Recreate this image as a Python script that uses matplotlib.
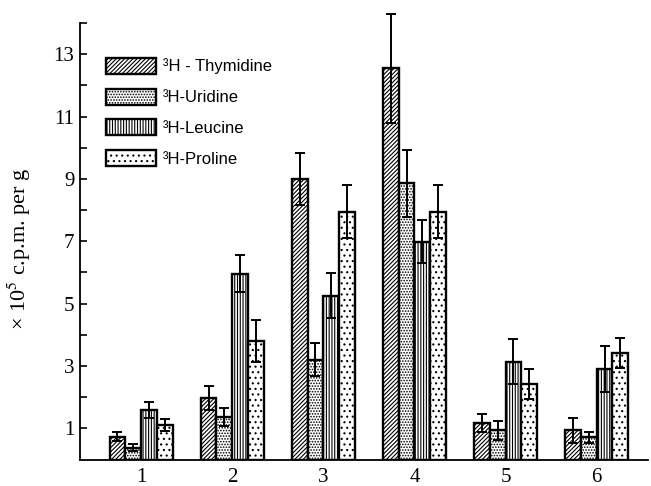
import numpy as np
import matplotlib
matplotlib.use('Agg')
import matplotlib.pyplot as plt

plt.rcParams['mathtext.fontset'] = 'stix'
plt.rcParams['hatch.linewidth'] = 0.8

groups = ['1', '2', '3', '4', '5', '6']
labels = ['³H - Thymidine', '³H-Uridine', '³H-Leucine', '³H-Proline']

thymidine = [0.73, 1.97, 9.0, 12.55, 1.16, 0.94]
thymidine_err = [0.15, 0.38, 0.83, 1.75, 0.29, 0.40]
uridine = [0.38, 1.36, 3.2, 8.86, 0.94, 0.71]
uridine_err = [0.12, 0.30, 0.53, 1.07, 0.30, 0.17]
leucine = [1.59, 5.96, 5.26, 6.99, 3.14, 2.91]
leucine_err = [0.27, 0.60, 0.72, 0.68, 0.72, 0.73]
proline = [1.10, 3.80, 7.95, 7.95, 2.42, 3.43]
proline_err = [0.20, 0.67, 0.85, 0.85, 0.49, 0.48]

series = [thymidine, uridine, leucine, proline]
errors = [thymidine_err, uridine_err, leucine_err, proline_err]
hatches = ['////////', '......', '||||||', '...']

fig = plt.figure(figsize=(6.51, 4.86), dpi=100)
ax = fig.add_axes([0.123, 0.0545, 0.872, 0.898])

x = np.arange(len(groups))
w = 0.173
for k in range(4):
    pos = x + (k - 1.5)*w
    ax.bar(pos, series[k], w, color='white', edgecolor='black', linewidth=1.7,
           hatch=hatches[k], label=labels[k], zorder=2)
    ax.errorbar(pos, series[k], yerr=errors[k], fmt='none', ecolor='black',
                elinewidth=1.4, capsize=3.5, capthick=1.4, zorder=3, clip_on=False)

ax.set_xlim(-0.67, 5.56)
ax.set_ylim(0, 14)
ax.set_xticks(x)
ax.set_xticklabels(groups, fontsize=15, family='Liberation Serif')
ax.tick_params(axis='x', length=0, pad=6)
ax.set_yticks([1, 3, 5, 7, 9, 11, 13])
ax.set_yticks([2, 4, 6, 8, 10, 12, 14], minor=True)
ax.set_yticklabels(['1', '3', '5', '7', '9', '11', '13'], fontsize=15, family='Liberation Serif')
ax.tick_params(axis='y', which='both', direction='in', length=5, width=1.2, pad=4)
for s in ['top', 'right']:
    ax.spines[s].set_visible(False)
ax.spines['left'].set_linewidth(1.3)
ax.spines['bottom'].set_linewidth(1.3)

ax.set_ylabel('× 10$^5$ c.p.m. per g', fontsize=16, family='Liberation Serif')
ax.yaxis.set_label_coords(-0.083, 0.482)

leg = ax.legend(loc='upper left', bbox_to_anchor=(0.02, 0.955), frameon=False,
                prop={'family': 'Liberation Sans', 'size': 12},
                handlelength=3.0, handleheight=1.1, labelspacing=0.85, handletextpad=0.4)

fig.savefig('out.png', dpi=100)
